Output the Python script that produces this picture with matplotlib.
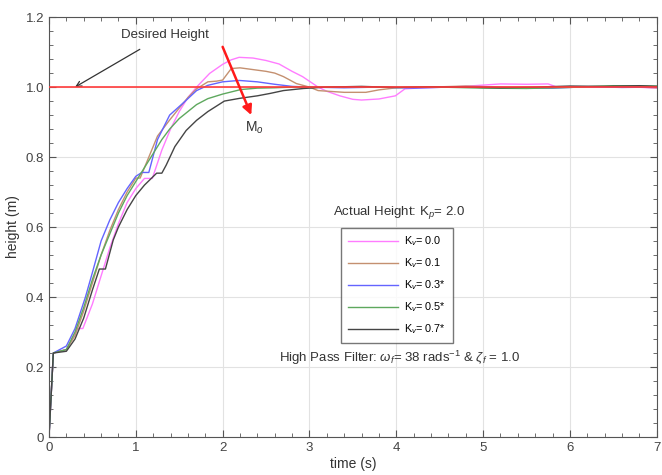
import matplotlib
matplotlib.use('Agg')
import matplotlib.pyplot as plt
from matplotlib.ticker import MultipleLocator

plt.rcParams['font.family'] = ['Liberation Sans', 'DejaVu Sans']
plt.rcParams['mathtext.fontset'] = 'custom'
plt.rcParams['mathtext.rm'] = 'Liberation Sans'
plt.rcParams['mathtext.it'] = 'Liberation Sans:italic'

# Kv = 0.0
t_k0 = [0, 0.05, 0.2, 0.33, 0.39, 0.5, 0.6, 0.7, 0.8, 0.9, 1.0, 1.1, 1.19, 1.3, 1.4, 1.5, 1.6,
        1.7, 1.85, 2.0, 2.1, 2.19, 2.35, 2.5, 2.65, 2.8, 2.92, 3.1, 3.2, 3.35, 3.5, 3.6, 3.8,
        3.99, 4.1, 4.3, 4.6, 4.9, 5.2, 5.5, 5.75, 5.85, 6.2, 6.6, 7.0]
h_k0 = [0, 0.24, 0.25, 0.31, 0.31, 0.38, 0.46, 0.54, 0.61, 0.67, 0.71, 0.739, 0.739, 0.82, 0.88,
        0.93, 0.97, 1.0, 1.039, 1.065, 1.078, 1.085, 1.083, 1.076, 1.066, 1.045, 1.03, 1.0, 0.988,
        0.975, 0.965, 0.963, 0.966, 0.975, 0.995, 0.998, 1.0, 1.004, 1.009, 1.008, 1.009, 1.0,
        1.0, 1.002, 0.997]

# Kv = 0.1
t_k1 = [0, 0.05, 0.2, 0.3, 0.4, 0.5, 0.6, 0.7, 0.8, 0.9, 1.0, 1.05, 1.15, 1.25, 1.39, 1.5,
        1.6, 1.7, 1.83, 1.93, 2.0, 2.1, 2.2, 2.35, 2.5, 2.6, 2.7, 2.85, 3.0, 3.1, 3.4, 3.65,
        3.8, 4.0, 4.4, 4.8, 5.2, 5.6, 6.0, 6.4, 6.8, 7.0]
h_k1 = [0, 0.24, 0.25, 0.29, 0.36, 0.44, 0.52, 0.59, 0.65, 0.7, 0.74, 0.74, 0.8, 0.86, 0.906,
        0.94, 0.97, 0.995, 1.015, 1.017, 1.02, 1.053, 1.055, 1.05, 1.045, 1.04, 1.03, 1.01, 1.0,
        0.99, 0.985, 0.985, 0.992, 0.998, 1.0, 1.003, 1.0, 0.998, 1.0, 1.002, 1.0, 0.998]

# Kv = 0.3*
t_k3 = [0, 0.05, 0.2, 0.3, 0.42, 0.5, 0.6, 0.7, 0.8, 0.9, 1.0, 1.07, 1.15, 1.25, 1.39, 1.57,
        1.7, 1.83, 2.0, 2.19, 2.4, 2.6, 2.8, 3.0, 3.4, 3.8, 4.2, 4.6, 5.0, 5.4, 5.8, 6.2, 6.6,
        7.0]
h_k3 = [0, 0.24, 0.26, 0.31, 0.4, 0.47, 0.56, 0.62, 0.67, 0.71, 0.745, 0.756, 0.756, 0.85, 0.92,
        0.96, 0.99, 1.005, 1.015, 1.019, 1.015, 1.008, 1.002, 1.0, 0.998, 1.0, 0.997, 1.0, 1.0,
        0.998, 0.997, 1.001, 0.999, 1.0]

# Kv = 0.5*
t_k5 = [0, 0.05, 0.2, 0.3, 0.4, 0.5, 0.6, 0.7, 0.8, 0.9, 1.0, 1.1, 1.2, 1.3, 1.39, 1.5, 1.6,
        1.7, 1.83, 2.0, 2.21, 2.4, 2.6, 2.8, 3.0, 3.5, 4.0, 4.5, 5.0, 5.5, 6.0, 6.5, 7.0]
h_k5 = [0, 0.24, 0.25, 0.3, 0.37, 0.45, 0.52, 0.58, 0.64, 0.69, 0.73, 0.77, 0.81, 0.85, 0.88,
        0.91, 0.93, 0.95, 0.967, 0.98, 0.993, 0.997, 0.998, 1.0, 1.0, 1.001, 0.999, 1.0, 0.997,
        0.996, 0.999, 1.004, 1.003]

# Kv = 0.7*
t_k7 = [0, 0.05, 0.2, 0.3, 0.4, 0.5, 0.58, 0.65, 0.74, 0.8, 0.9, 1.0, 1.1, 1.24, 1.3, 1.35,
        1.45, 1.58, 1.7, 1.83, 2.02, 2.2, 2.4, 2.55, 2.7, 2.93, 3.2, 3.6, 4.0, 4.4, 4.8, 5.2,
        5.6, 6.0, 6.4, 6.8, 7.0]
h_k7 = [0, 0.24, 0.245, 0.28, 0.34, 0.42, 0.48, 0.48, 0.563, 0.6, 0.65, 0.69, 0.72, 0.754,
        0.754, 0.777, 0.83, 0.876, 0.905, 0.93, 0.96, 0.968, 0.975, 0.982, 0.99, 0.996, 1.0,
        1.002, 0.999, 1.001, 1.0, 0.998, 1.0, 1.003, 1.002, 1.004, 1.002]

series = [
    (t_k0, h_k0, '#ff7cff', 'K$_v$= 0.0'),
    (t_k1, h_k1, '#c49070', 'K$_v$= 0.1'),
    (t_k3, h_k3, '#6464ff', 'K$_v$= 0.3*'),
    (t_k5, h_k5, '#5ea85e', 'K$_v$= 0.5*'),
    (t_k7, h_k7, '#454545', 'K$_v$= 0.7*'),
]

desired_t = [0, 7]
desired_h = [1.0, 1.0]

fig = plt.figure(figsize=(6.62, 4.75), dpi=100)
ax = fig.add_axes([0.074, 0.08, 0.918, 0.884])

lines = []
for t, h, c, lab in series:
    ln, = ax.plot(t, h, color=c, lw=1.0, label=lab)
    lines.append(ln)
ax.plot(desired_t, desired_h, color='#ff3b3b', lw=1.2, zorder=5)

ax.set_xlim(0, 7)
ax.set_ylim(0, 1.2)
ax.xaxis.set_major_locator(MultipleLocator(1))
ax.xaxis.set_minor_locator(MultipleLocator(0.2))
ax.yaxis.set_major_locator(MultipleLocator(0.2))
ax.yaxis.set_minor_locator(MultipleLocator(0.04))
ax.set_yticks([0, 0.2, 0.4, 0.6, 0.8, 1.0, 1.2])
ax.set_yticklabels(['0', '0.2', '0.4', '0.6', '0.8', '1.0', '1.2'])
ax.grid(True, which='major', color='#e2e2e2', lw=0.8)
ax.tick_params(which='both', direction='in', top=True, right=True, colors='#555555',
               labelcolor='#444444', labelsize=9.5)
ax.tick_params(which='major', length=5)
ax.tick_params(which='minor', length=3)
for s in ax.spines.values():
    s.set_color('#555555')
ax.set_xlabel('time (s)', fontsize=10, color='#333333', labelpad=2)
ax.set_ylabel('height (m)', fontsize=10, color='#333333', labelpad=4)

leg = ax.legend(handles=lines, loc='upper left', bbox_to_anchor=(0.481, 0.498),
                borderaxespad=0, fontsize=7.8, frameon=True, fancybox=False,
                edgecolor='#555555', handlelength=4.6, handletextpad=0.6,
                labelspacing=0.76, borderpad=0.6)
leg.get_frame().set_linewidth(1.0)

ax.text(0.576, 0.535, 'Actual Height: K$_p$= 2.0', transform=ax.transAxes,
        ha='center', va='center', fontsize=9.5, color='#333333')
ax.text(0.576, 0.188, 'High Pass Filter: $\\omega_f$= 38 rads$^{-1}$ & $\\zeta_f$ = 1.0',
        transform=ax.transAxes, ha='center', va='center', fontsize=9.5, color='#333333')

ax.annotate('Desired Height', xy=(0.3, 1.0), xytext=(1.33, 1.149), ha='center', va='center',
            fontsize=9.5, color='#333333',
            arrowprops=dict(arrowstyle='->', color='#333333', lw=0.9, shrinkA=8, shrinkB=0))
ax.annotate('', xy=(2.33, 0.92), xytext=(2.0, 1.115),
            arrowprops=dict(arrowstyle='-|>', color='#ff1a1a', lw=1.8, mutation_scale=14,
                            shrinkA=0, shrinkB=0), zorder=6)
ax.text(2.37, 0.885, 'M$_o$', fontsize=10, color='#333333', ha='center', va='center')

fig.savefig('out.png', dpi=100)
